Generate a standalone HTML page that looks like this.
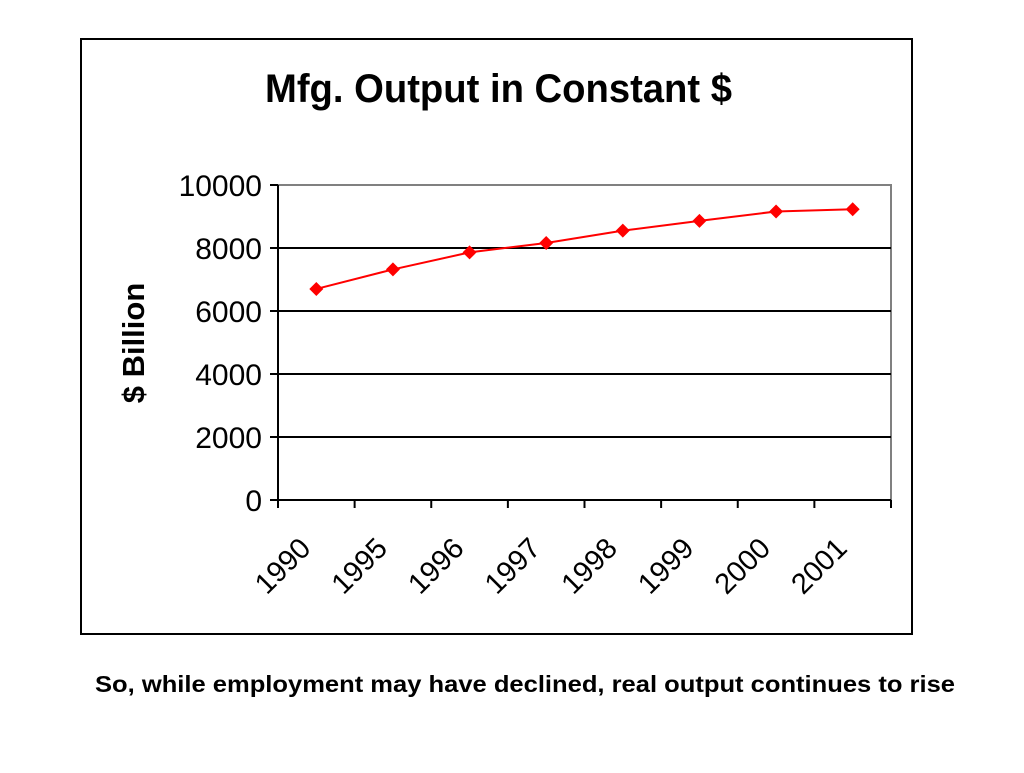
<!DOCTYPE html>
<html><head><meta charset="utf-8"><style>
body{margin:0;background:#fff;width:1024px;height:768px;overflow:hidden;font-family:"Liberation Sans",Arial,sans-serif}
</style></head><body>
<svg width="1024" height="768" xmlns="http://www.w3.org/2000/svg" font-family="Liberation Sans, Arial, sans-serif">
<rect x="81" y="39" width="831" height="595" fill="#fff" stroke="#000" stroke-width="2"/>
<text x="265" y="102" font-size="40" font-weight="bold" textLength="467" lengthAdjust="spacingAndGlyphs">Mfg. Output in Constant $</text>
<rect x="278" y="185" width="613" height="315" fill="none" stroke="#808080" stroke-width="2"/>
<text transform="translate(144,343) rotate(-90)" text-anchor="middle" font-size="31" font-weight="bold">$ Billion</text>
<g id="grid"></g>
<g id="marks"></g>
<text x="95" y="692" font-size="23" font-weight="bold" textLength="860" lengthAdjust="spacingAndGlyphs">So, while employment may have declined, real output continues to rise</text>
</svg>
<script>
const categories=["1990","1995","1996","1997","1998","1999","2000","2001"];
const values=[6700,7320,7860,8160,8550,8860,9160,9230];
const yTicks=[0,2000,4000,6000,8000,10000];
const X0=278,X1=891,Y0=500,Y1=185,YMAX=10000;
const NS="http://www.w3.org/2000/svg";
const bw=(X1-X0)/categories.length;
function xc(i){return X0+bw*(i+0.5);}
function yv(v){return Y0-(v/YMAX)*(Y0-Y1);}
const grid=document.getElementById('grid'),marks=document.getElementById('marks');
function mk(tag,attrs,parent){const e=document.createElementNS(NS,tag);for(const k in attrs)e.setAttribute(k,attrs[k]);parent.appendChild(e);return e;}
yTicks.forEach(t=>{
  const y=yv(t);
  if(t>0&&t<YMAX){const g=mk('line',{x1:X0,x2:X1,y1:y,y2:y,stroke:'#000','stroke-width':2},grid);
  
  }
  const tk=mk('line',{x1:X0-8,x2:X0,y1:y,y2:y,stroke:'#000','stroke-width':2},grid);
  
  
  const lb=mk('text',{x:X0-16,y:y+11,'text-anchor':'end','font-size':30},grid);
  lb.textContent=t;
  
  
});
const ax=mk('line',{x1:X0,x2:X0,y1:Y1,y2:Y0+8,stroke:'#000','stroke-width':2},grid);


const xa=mk('line',{x1:X0,x2:X1,y1:Y0,y2:Y0,stroke:'#000','stroke-width':2},grid);


for(let i=0;i<=categories.length;i++){
  const x=X0+bw*i;
  const tk=mk('line',{x1:x,x2:x,y1:Y0,y2:Y0+8,stroke:'#000','stroke-width':2},grid);
  
  
}
categories.forEach((c,i)=>{
  const x=xc(i)-4,y=550;
  const lb=mk('text',{x:x,y:y,'text-anchor':'end','font-size':29,transform:`rotate(-45 ${x} ${y})`},grid);
  lb.textContent=c;
  
  
});
const pts=values.map((v,i)=>xc(i)+','+yv(v)).join(' ');
const pl=mk('polyline',{points:pts,fill:'none',stroke:'#f00','stroke-width':2},marks);


values.forEach((v,i)=>{
  const x=xc(i),y=yv(v),s=7;
  const p=mk('polygon',{points:`${x},${y-s} ${x+s},${y} ${x},${y+s} ${x-s},${y}`,fill:'#f00'},marks);
  
  
});
</script>
</body></html>
